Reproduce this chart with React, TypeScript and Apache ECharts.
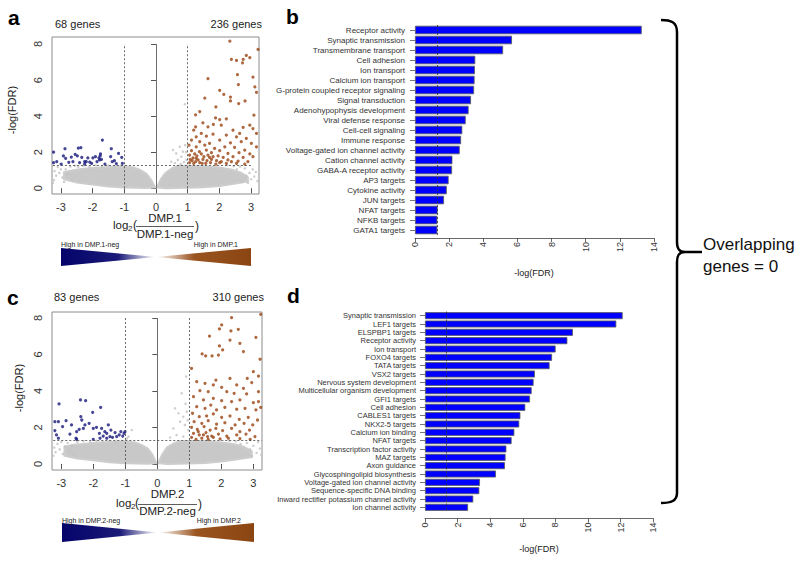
import React, { useEffect, useRef } from "react";
import * as echarts from "echarts";

const FONT = "'Liberation Sans', Arial, Helvetica, sans-serif";

// ---------- volcano panels (a, c) ----------
const volcanoXTicks = [-3, -2, -1, 0, 1, 2, 3];
const volcanoYTicks = [0, 2, 4, 6, 8];
const fdrCutoff = 1.3;
const foldCutoff = 1;
const refLineTop = 8;
const cutoffSpanA = [-3.25, 3.0];
const cutoffSpanC = [-3.25, 3.26];

const blueA = [
  [-3.23, 2.0], [-3.23, 1.42], [-3.13, 1.47], [-2.99, 1.34], [-2.87, 2.19], [-2.92, 1.79], [-2.85, 1.66],
  [-2.67, 1.73], [-2.62, 1.47], [-2.55, 1.88], [-2.48, 1.79], [-2.45, 2.23], [-2.37, 2.25], [-2.34, 1.71],
  [-2.41, 1.42], [-2.25, 1.47], [-2.2, 1.47], [-2.15, 1.68], [-2.09, 1.45], [-1.99, 1.69], [-1.91, 1.75],
  [-1.86, 1.47], [-1.8, 1.69], [-1.76, 1.79], [-1.75, 1.9], [-1.72, 1.6], [-1.78, 1.57], [-1.69, 2.67],
  [-1.61, 1.34], [-1.41, 2.19], [-1.43, 1.75], [-1.38, 1.47], [-1.31, 1.53], [-1.25, 1.36], [-1.18, 1.93],
  [-1.08, 1.71], [-1.06, 1.38], [-2.03, 1.38], [-2.75, 1.44], [-2.25, 1.34],
];

const orangeA = [
  [2.33, 8.16], [2.38, 7.15], [2.54, 7.09], [2.73, 6.96], [2.75, 7.15], [2.85, 7.37], [2.96, 7.24], [3.22, 7.7],
  [2.57, 6.3], [1.64, 6.08], [2.6, 5.75], [2.01, 5.43], [2.14, 5.21], [2.35, 5.06], [2.81, 4.84], [3.06, 6.17],
  [3.12, 5.62], [3.17, 5.32], [1.54, 5.0], [1.89, 4.51], [2.35, 4.84], [2.61, 4.7], [1.38, 4.25], [1.25, 4.07],
  [3.09, 4.05], [1.88, 3.9], [2.01, 3.81], [2.22, 3.85], [1.48, 3.63], [1.25, 3.41], [1.19, 3.22], [1.64, 3.41],
  [1.81, 3.54], [2.06, 3.5], [2.43, 3.22], [2.75, 3.37], [2.96, 3.5], [3.06, 3.31], [3.17, 3.04], [2.64, 3.04],
  [1.43, 3.04], [1.27, 2.85], [1.59, 2.89], [1.8, 3.0], [2.22, 2.95], [2.54, 2.85], [2.85, 2.76], [1.12, 2.67],
  [1.38, 2.58], [1.69, 2.49], [2.01, 2.67], [2.35, 2.52], [2.69, 2.58], [3.01, 2.49], [1.04, 2.39], [1.27, 2.3],
  [1.54, 2.39], [1.85, 2.21], [2.17, 2.3], [2.48, 2.27], [2.8, 2.12], [3.17, 2.3], [1.12, 2.08], [1.37, 2.03],
  [1.59, 2.12], [1.75, 1.97], [2.01, 2.08], [2.27, 1.93], [2.62, 1.97], [2.96, 1.9], [1.06, 1.84], [1.22, 1.9],
  [1.29, 1.79], [1.43, 1.9], [1.51, 1.75], [1.64, 1.84], [1.8, 1.75], [1.96, 1.79], [2.12, 1.71], [2.43, 1.75],
  [2.75, 1.71], [3.06, 1.75], [1.08, 1.6], [1.17, 1.68], [1.33, 1.57], [1.48, 1.6], [1.61, 1.53], [1.75, 1.6],
  [1.91, 1.53], [2.06, 1.47], [2.27, 1.57], [2.59, 1.51], [2.9, 1.47], [1.06, 1.42], [1.19, 1.38], [1.38, 1.42],
  [1.57, 1.38], [1.72, 1.42], [1.89, 1.34], [2.22, 1.38], [2.54, 1.38], [2.8, 1.34], [1.25, 1.47], [1.46, 1.38],
  [2.01, 1.42], [2.38, 1.47], [1.14, 1.53], [1.27, 1.66], [1.69, 1.71],
];

const greyA = [
  [-3.22, 0.45], [-3.2, 0.95], [-3.15, 0.7], [-3.1, 1.18], [-3.05, 0.85], [-3.0, 1.05], [-2.95, 0.6], [-2.9, 0.35],
  [-2.85, 1.05], [-2.8, 0.8], [-2.7, 1.2], [-2.65, 0.45], [-2.55, 1.25], [-2.45, 0.4], [-3.25, 0.3],
  [-2.3, 1.25], [-2.1, 1.2], [-1.9, 1.27], [-1.7, 1.22], [-1.5, 1.26], [-1.3, 1.2], [-1.1, 1.25], [-2.45, 1.18],
  [2.8, 1.1], [2.85, 0.7], [2.95, 0.85], [3.0, 0.5], [3.05, 1.05], [3.1, 0.65], [3.15, 0.9], [3.2, 0.4],
  [2.7, 0.35], [2.65, 1.2], [2.9, 0.3], [2.45, 1.22], [2.25, 1.27], [2.55, 1.05],
  [0.91, 4.66], [0.54, 2.12], [0.64, 1.93], [0.75, 2.3], [0.8, 1.75], [0.85, 2.03], [0.92, 2.39], [0.96, 1.57],
  [0.69, 1.57], [0.48, 1.47], [0.6, 1.4], [0.88, 1.45], [0.78, 1.35], [0.95, 2.0],
];

const greyMassA = [
  [[-2.9, 0.5], [-2.9, 0.9], [-2.6, 1.0], [-2.3, 1.08], [-2.0, 1.12], [-1.5, 1.18], [-1.0, 1.22], [-0.7, 1.15],
   [-0.5, 1.02], [-0.3, 0.8], [-0.15, 0.45], [-0.03, 0.05], [-0.3, 0.01], [-1.0, 0.04], [-1.5, 0.09], [-2.0, 0.2],
   [-2.5, 0.32]],
  [[0.03, 0.05], [0.15, 0.5], [0.3, 0.85], [0.5, 1.1], [0.7, 1.25], [1.0, 1.25], [1.5, 1.22], [2.0, 1.15],
   [2.4, 1.02], [2.7, 0.85], [2.9, 0.6], [2.9, 0.38], [2.5, 0.26], [2.0, 0.13], [1.5, 0.06], [1.0, 0.02], [0.3, 0.0]],
];

const blueC = [
  [-3.2, 2.32], [-3.09, 2.32], [-3.2, 1.83], [-3.15, 1.59], [-3.09, 1.41], [-3.07, 3.29], [-2.96, 2.05],
  [-2.85, 2.37], [-2.73, 1.64], [-2.54, 1.41], [-2.52, 1.77], [-2.44, 1.9], [-2.39, 2.59], [-2.36, 2.41],
  [-2.4, 3.51], [-2.24, 3.47], [-2.26, 2.14], [-2.13, 2.23], [-2.02, 2.83], [-2.0, 1.95], [-1.9, 2.01],
  [-1.81, 1.68], [-1.77, 3.1], [-1.74, 1.95], [-1.69, 1.53], [-1.64, 1.77], [-1.58, 1.68], [-1.53, 2.14],
  [-1.48, 1.5], [-1.45, 1.86], [-1.4, 1.46], [-1.32, 1.72], [-1.27, 1.5], [-1.19, 1.59], [-1.14, 1.77],
  [-1.08, 1.53], [-1.04, 1.68], [-1.01, 1.77], [-2.0, 1.35], [-2.52, 1.35], [-1.79, 1.41], [-1.58, 1.41],
  [-2.31, 1.95], [-2.68, 2.14],
];

const orangeC = [
  [2.32, 8.02], [2.01, 7.62], [1.94, 7.4], [2.53, 7.38], [2.3, 7.29], [1.63, 7.01], [2.27, 6.79], [2.58, 6.61],
  [2.69, 6.16], [1.94, 6.47], [2.04, 6.25], [1.4, 6.03], [1.51, 5.92], [1.71, 5.92], [1.91, 5.97], [3.08, 6.94],
  [3.21, 5.74], [1.07, 5.24], [3.0, 5.06], [3.16, 4.82], [2.81, 4.69], [2.27, 4.69], [1.83, 4.6], [1.23, 4.51],
  [1.49, 4.42], [1.75, 4.33], [2.48, 4.33], [2.01, 4.2], [2.69, 4.15], [2.95, 4.46], [1.33, 4.02], [1.59, 3.96],
  [2.17, 3.96], [2.4, 3.87], [2.79, 3.84], [3.16, 3.96], [1.13, 3.69], [1.44, 3.51], [1.75, 3.6], [2.01, 3.47],
  [2.32, 3.42], [2.58, 3.51], [3.0, 3.36], [3.16, 3.42], [1.23, 3.14], [1.49, 3.05], [1.67, 3.23], [1.85, 2.96],
  [2.11, 3.1], [2.48, 3.0], [2.74, 3.05], [3.08, 2.96], [1.1, 2.78], [1.31, 2.59], [1.54, 2.63], [1.75, 2.74],
  [2.01, 2.56], [2.27, 2.63], [2.56, 2.45], [2.84, 2.56], [3.13, 2.41], [1.15, 2.32], [1.39, 2.23], [1.59, 2.37],
  [1.85, 2.19], [2.11, 2.26], [2.43, 2.14], [2.71, 2.23], [2.98, 2.14], [1.07, 2.01], [1.25, 1.9], [1.46, 2.05],
  [1.65, 1.86], [1.83, 1.95], [2.04, 1.83], [2.32, 1.95], [2.58, 1.77], [2.88, 1.86], [1.13, 1.68], [1.31, 1.59],
  [1.52, 1.72], [1.7, 1.53], [1.91, 1.64], [2.17, 1.53], [2.48, 1.59], [2.77, 1.64], [3.05, 1.5], [1.07, 1.46],
  [1.21, 1.35], [1.39, 1.41], [1.59, 1.35], [1.75, 1.46], [1.96, 1.37], [2.22, 1.41], [2.58, 1.39], [2.9, 1.35],
  [1.44, 1.59], [1.57, 1.5], [1.28, 1.77], [3.23, 3.1], [3.23, 8.2],
];

const greyC = [
  [-3.22, 0.9], [-3.18, 0.65], [-3.12, 1.1], [-3.05, 0.8], [-3.0, 1.2], [-2.95, 0.55], [-2.88, 0.95], [-2.8, 1.15],
  [-2.75, 0.7], [-2.68, 1.0], [-2.6, 0.5], [-2.5, 1.2], [-3.25, 0.45],
  [-2.3, 1.25], [-2.1, 1.2], [-1.9, 1.27], [-1.7, 1.22], [-1.5, 1.26], [-1.3, 1.21], [-1.1, 1.26],
  [-0.8, 1.86], [-0.9, 1.5], [-0.95, 1.4],
  [2.8, 1.15], [2.9, 0.8], [3.0, 1.0], [3.1, 0.6], [3.15, 1.2], [3.2, 0.85], [2.95, 0.45], [3.25, 0.5],
  [2.45, 1.24], [2.25, 1.27], [2.6, 1.1],
  [0.9, 4.79], [0.76, 3.87], [0.55, 3.05], [0.66, 2.78], [0.81, 2.59], [0.92, 2.87], [0.71, 2.32], [0.86, 2.14],
  [0.5, 1.95], [0.97, 1.86], [0.6, 1.59], [0.81, 1.5], [0.4, 1.45], [0.95, 2.4], [0.88, 3.3],
];

const greyMassC = [
  [[-2.9, 0.45], [-2.9, 0.95], [-2.6, 1.05], [-2.3, 1.1], [-2.0, 1.15], [-1.5, 1.2], [-1.0, 1.24], [-0.7, 1.18],
   [-0.5, 1.05], [-0.3, 0.85], [-0.15, 0.5], [-0.03, 0.05], [-0.3, 0.01], [-1.0, 0.04], [-1.5, 0.1], [-2.0, 0.2],
   [-2.5, 0.3]],
  [[0.03, 0.05], [0.15, 0.5], [0.3, 0.9], [0.5, 1.12], [0.7, 1.25], [1.0, 1.26], [1.5, 1.24], [2.0, 1.18],
   [2.4, 1.08], [2.7, 0.95], [2.95, 0.7], [2.95, 0.38], [2.5, 0.26], [2.0, 0.13], [1.5, 0.06], [1.0, 0.02], [0.3, 0.0]],
];

// ---------- enrichment panels (b, d) ----------
const termsB = [
  "Receptor activity", "Synaptic transmission", "Transmembrane transport", "Cell adhesion", "Ion transport",
  "Calcium ion transport", "G-protein coupled receptor signaling", "Signal transduction",
  "Adenohypophysis development", "Viral defense response", "Cell-cell signaling", "Immune response",
  "Voltage-gated ion channel activity", "Cation channel activity", "GABA-A receptor activity", "AP3 targets",
  "Cytokine activity", "JUN targets", "NFAT targets", "NFKB targets", "GATA1 targets",
];
const valuesB = [13.28, 5.68, 5.16, 3.53, 3.51, 3.49, 3.46, 3.28, 3.14, 2.97, 2.77, 2.7, 2.62, 2.19, 2.17, 1.97, 1.86, 1.7, 1.33, 1.31, 1.31];

const termsD = [
  "Synaptic transmission", "LEF1 targets", "ELSPBP1 targets", "Receptor activity", "Ion transport",
  "FOXO4 targets", "TATA targets", "VSX2 targets", "Nervous system development",
  "Multicellular organism development", "GFI1 targets", "Cell adhesion", "CABLES1 targets", "NKX2-5 targets",
  "Calcium ion binding", "NFAT targets", "Transcription factor activity", "MAZ targets", "Axon guidance",
  "Glycosphingolipid biosynthesis", "Voltage-gated ion channel activity", "Sequence-specific DNA binding",
  "Inward rectifier potassium channel activity", "Ion channel activity",
];
const valuesD = [12.12, 11.73, 9.07, 8.73, 8.01, 7.79, 7.64, 6.74, 6.66, 6.54, 6.44, 6.15, 5.85, 5.78, 5.48, 5.31, 4.99, 4.94, 4.9, 4.35, 3.37, 3.33, 2.96, 2.64];

const barAxisMax = 14;
const barAxisStep = 2;

const BLUE_PT = "#18187c";
const ORANGE_PT = "#9a4412";
const GREY_PT = "#c2c2c2";

const bracePath =
  "M661,20 C671,20 677,22 677,32 L677,242 C677,249 679,252 685,252 L702,252 M685,252 C679,252 677,255 677,262 L677,493 C677,501 671,503 661,503";
echarts.graphic.registerShape("brace", echarts.graphic.extendPath(bracePath, {}));

function txt(text: string, x: number, y: number, size: number, extra: any = {}) {
  const { align = "left", weight = "normal", rotation = 0, color = "#222" } = extra;
  return {
    type: "text",
    x,
    y,
    rotation,
    silent: true,
    style: {
      text,
      fontSize: size,
      fontFamily: FONT,
      fontWeight: weight,
      fill: color,
      align,
      textAlign: align,
      verticalAlign: "middle",
      textVerticalAlign: "middle",
    },
  };
}

function volcanoAxes(gridIndex: number, xMin: number, xMax: number, yMin: number, yMax: number) {
  const x = {
    gridIndex,
    type: "value",
    min: xMin,
    max: xMax,
    axisLine: { show: false },
    axisTick: { show: true, customValues: volcanoXTicks, length: 5, lineStyle: { color: "#555" } },
    axisLabel: { customValues: volcanoXTicks, fontSize: 11, color: "#333", fontFamily: FONT, margin: 7 },
    splitLine: { show: false },
  };
  const y = {
    gridIndex,
    type: "value",
    min: yMin,
    max: yMax,
    axisLine: { show: false },
    axisTick: { show: true, customValues: volcanoYTicks, length: 5, lineStyle: { color: "#555" } },
    axisLabel: { customValues: volcanoYTicks, fontSize: 11, color: "#333", fontFamily: FONT, rotate: 90, margin: 9 },
    splitLine: { show: false },
  };
  return { x, y };
}

function volcanoSeries(idx: number, grey: number[][], mass: number[][][], blue: number[][], orange: number[][], span: number[]) {
  const dash = { type: [2, 2], color: "#444", width: 0.8 };
  return [
    {
      type: "custom",
      coordinateSystem: "cartesian2d",
      xAxisIndex: idx,
      yAxisIndex: idx,
      silent: true,
      z: 1,
      data: [[0, 0]],
      renderItem: (_p: any, api: any) => ({
        type: "group",
        children: mass.map((outline) => ({
          type: "polygon",
          shape: { points: outline.map((pt) => api.coord(pt)) },
          style: { fill: "#c8c8c8", stroke: "#cdcdcd", lineWidth: 2 },
        })),
      }),
    },
    {
      type: "scatter",
      xAxisIndex: idx,
      yAxisIndex: idx,
      data: grey,
      symbolSize: 2.5,
      silent: true,
      z: 2,
      itemStyle: { color: GREY_PT },
      markLine: {
        silent: true,
        symbol: ["none", "none"],
        label: { show: false },
        data: [
          [{ coord: [0, 0], lineStyle: { type: "solid", color: "#6e6e6e", width: 1 } }, { coord: [0, refLineTop] }],
          [{ coord: [-foldCutoff, 0], lineStyle: dash }, { coord: [-foldCutoff, refLineTop] }],
          [{ coord: [foldCutoff, 0], lineStyle: dash }, { coord: [foldCutoff, refLineTop] }],
          [{ coord: [span[0], fdrCutoff], lineStyle: dash }, { coord: [span[1], fdrCutoff] }],
        ],
      },
    },
    {
      type: "scatter",
      xAxisIndex: idx,
      yAxisIndex: idx,
      data: blue,
      symbolSize: 3.2,
      silent: true,
      z: 3,
      itemStyle: { color: BLUE_PT },
    },
    {
      type: "scatter",
      xAxisIndex: idx,
      yAxisIndex: idx,
      data: orange,
      symbolSize: 3.2,
      silent: true,
      z: 3,
      itemStyle: { color: ORANGE_PT },
    },
  ];
}

function barAxes(gridIndex: number, terms: string[], labelSize: number, xOffset: number, yOffset: number) {
  const x = {
    gridIndex,
    type: "value",
    min: 0,
    max: barAxisMax,
    interval: barAxisStep,
    offset: xOffset,
    axisLine: { show: true, lineStyle: { color: "#444", width: 0.8 } },
    axisTick: { show: true, length: 4, lineStyle: { color: "#444", width: 0.8 } },
    axisLabel: { rotate: 90, fontSize: 9, color: "#333", fontFamily: FONT, margin: 4 },
    splitLine: { show: false },
  };
  const y = {
    gridIndex,
    type: "category",
    data: terms,
    inverse: true,
    offset: yOffset,
    axisLine: { show: false },
    axisTick: { show: true, alignWithLabel: true, length: 5, lineStyle: { color: "#555", width: 0.8 } },
    axisLabel: { fontSize: labelSize, color: "#333", fontFamily: FONT, margin: 8, interval: 0 },
    splitLine: { show: false },
  };
  return { x, y };
}

function barSeries(idx: number, values: number[], width: number) {
  return {
    type: "bar",
    xAxisIndex: idx,
    yAxisIndex: idx,
    data: values,
    barWidth: width,
    silent: true,
    itemStyle: { color: "#0000ff", borderColor: "#5a5a5a", borderWidth: 0.8 },
    markLine: {
      silent: true,
      symbol: ["none", "none"],
      label: { show: false },
      lineStyle: { type: [2, 2], color: "#333", width: 0.8 },
      data: [{ xAxis: fdrCutoff }],
    },
  };
}

function gradientBar(x0: number, x1: number, yTop: number, yBot: number, left: string, right: string, textY: number, xEndText: number) {
  const mid = (x0 + x1) / 2;
  const yMid = (yTop + yBot) / 2;
  return [
    {
      type: "polygon",
      silent: true,
      shape: { points: [[x0, yTop], [x0, yBot], [mid, yMid]] },
      style: {
        fill: new echarts.graphic.LinearGradient(0, 0, 1, 0, [
          { offset: 0, color: "#03036a" },
          { offset: 0.6, color: "#1a1a78" },
          { offset: 1, color: "#ffffff" },
        ]),
      },
    },
    {
      type: "polygon",
      silent: true,
      shape: { points: [[mid, yMid], [x1, yTop], [x1, yBot]] },
      style: {
        fill: new echarts.graphic.LinearGradient(0, 0, 1, 0, [
          { offset: 0, color: "#ffffff" },
          { offset: 0.4, color: "#9a5420" },
          { offset: 1, color: "#8a4512" },
        ]),
      },
    },
    txt(left, x0, textY, 7),
    txt(right, xEndText, textY, 7, { align: "right" }),
  ];
}

function fraction(xLog: number, yMid: number, num: string, den: string, x0: number, x1: number, yNum: number, yDen: number) {
  const cx = (x0 + x1) / 2;
  return [
    txt("log", xLog, yMid, 11.5),
    txt("2", xLog + 15, yMid + 3, 8),
    txt("(", x0 - 3, yMid, 12),
    txt(num, cx, yNum, 11.5, { align: "center" }),
    { type: "line", silent: true, shape: { x1: x0, y1: yMid + 1.5, x2: x1, y2: yMid + 1.5 }, style: { stroke: "#333", lineWidth: 0.8 } },
    txt(den, cx, yDen, 11.5, { align: "center" }),
    txt(")", x1 + 1, yMid + 1, 12),
  ];
}

export default function App() {
  const ref = useRef<HTMLDivElement>(null);

  useEffect(() => {
    if (!ref.current) return;
    const chart = echarts.init(ref.current, null, { renderer: "svg" });

    const vA = volcanoAxes(0, -3.28, 3.25, -0.32, 8.39);
    const bB = barAxes(1, termsB, 8, 3, 2);
    const vC = volcanoAxes(2, -3.29, 3.27, -0.33, 8.33);
    const bD = barAxes(3, termsD, 7.5, 7, 1);

    const option: any = {
      animation: false,
      backgroundColor: "#ffffff",
      textStyle: { fontFamily: FONT },
      grid: [
        { left: 52, top: 37, width: 207, height: 157, show: true, borderColor: "#8c8c8c", borderWidth: 1, backgroundColor: "transparent" },
        { left: 415, top: 25, width: 239, height: 210 },
        { left: 52, top: 312, width: 210, height: 158, show: true, borderColor: "#8c8c8c", borderWidth: 1, backgroundColor: "transparent" },
        { left: 425, top: 311.5, width: 228.3, height: 200 },
      ],
      xAxis: [vA.x, bB.x, vC.x, bD.x],
      yAxis: [vA.y, bB.y, vC.y, bD.y],
      series: [
        ...volcanoSeries(0, greyA, greyMassA, blueA, orangeA, cutoffSpanA),
        barSeries(1, valuesB, 8.5),
        ...volcanoSeries(2, greyC, greyMassC, blueC, orangeC, cutoffSpanC),
        barSeries(3, valuesD, 7),
      ],
      graphic: [
        txt("a", 8, 17, 21, { weight: "bold", color: "#000" }),
        txt("b", 286, 16, 21, { weight: "bold", color: "#000" }),
        txt("c", 7, 297, 21, { weight: "bold", color: "#000" }),
        txt("d", 287, 295, 21, { weight: "bold", color: "#000" }),
        txt("68 genes", 55, 24, 11),
        txt("236 genes", 262, 24, 11, { align: "right" }),
        txt("83 genes", 54, 297, 11),
        txt("310 genes", 264, 297, 11, { align: "right" }),
        txt("-log(FDR)", 11.5, 110, 11, { align: "center", rotation: Math.PI / 2 }),
        txt("-log(FDR)", 19, 388, 11, { align: "center", rotation: Math.PI / 2 }),
        txt("-log(FDR)", 534, 273, 9, { align: "center" }),
        txt("-log(FDR)", 539, 549, 9, { align: "center" }),
        ...fraction(113, 225, "DMP.1", "DMP.1-neg", 136, 194, 217.5, 233.5),
        ...fraction(116, 503, "DMP.2", "DMP.2-neg", 138, 197, 494, 510.5),
        ...gradientBar(61, 251, 248, 266, "High in DMP.1-neg", "High in DMP.1", 244, 238),
        ...gradientBar(62, 254, 523, 542, "High in DMP.2-neg", "High in DMP.2", 520, 241),
        { type: "brace", x: 0, y: 0, silent: true, shape: {}, style: { stroke: "#000", fill: "none", lineWidth: 2.5 } },
        txt("Overlapping", 703, 244, 17, { color: "#111" }),
        txt("genes = 0", 703, 266, 17, { color: "#111" }),
      ],
    };

    chart.setOption(option);
    return () => chart.dispose();
  }, []);

  return (
    <div
      ref={ref}
      style={{ position: "absolute", left: 0, top: 0, width: 800, height: 563, background: "#fff" }}
    />
  );
}
